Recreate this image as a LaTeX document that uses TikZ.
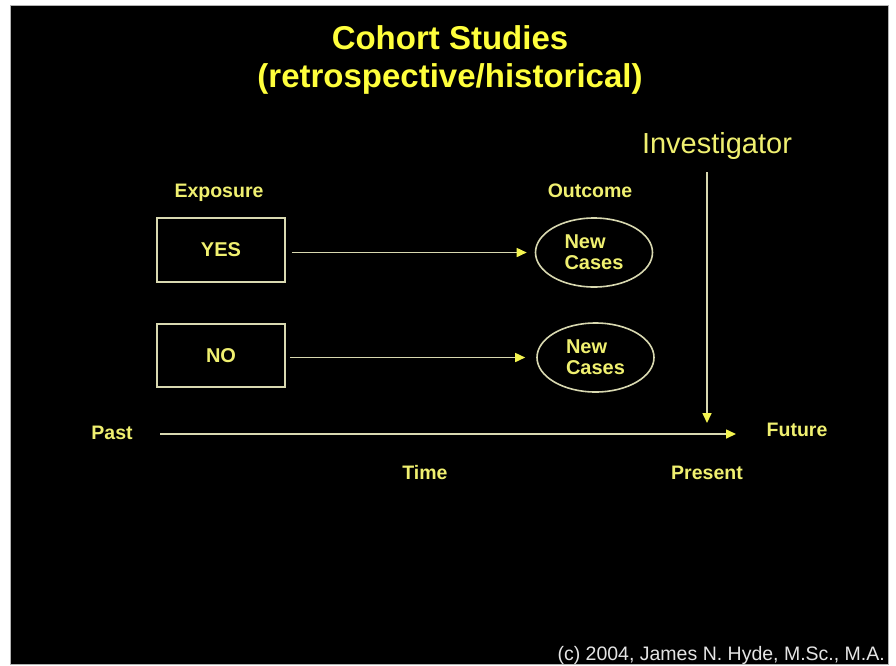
\documentclass[tikz,border=0pt]{standalone}
\usepackage{fontspec}
\setmainfont{Liberation Sans}
\usetikzlibrary{arrows.meta,shapes.geometric}
\definecolor{slidebg}{HTML}{000000}
\definecolor{titleyellow}{HTML}{FFFF3C}
\definecolor{labelyellow}{HTML}{F0F070}
\definecolor{strokecol}{HTML}{D8D8B0}
\definecolor{tipyellow}{HTML}{F4F450}
\definecolor{creditgray}{HTML}{E4E4E4}
\tikzset{
  titletext/.style={text=titleyellow, font=\bfseries\fontsize{33}{38}\selectfont, anchor=base, inner sep=0pt},
  labeltext/.style={text=labelyellow, font=\bfseries\fontsize{19.5}{21}\selectfont, anchor=base, inner sep=0pt},
  groupbox/.style={draw=strokecol, line width=1.6pt, minimum width=128pt, minimum height=64pt, inner sep=0pt,
    text=labelyellow, font=\bfseries\fontsize{20}{21}\selectfont},
  casebubble/.style={ellipse, draw=strokecol, line width=1.6pt, minimum width=117pt, minimum height=69pt,
    inner sep=0pt, align=left, text=labelyellow, font=\bfseries\fontsize{20}{21}\selectfont},
  flow/.style={draw=strokecol, line width=1.6pt,
    -{Triangle[length=10pt,width=9pt,color=tipyellow]}},
}
\begin{document}
\begin{tikzpicture}[x=1pt,y=-1pt]
  \useasboundingbox (0,0) rectangle (896,665);
  % slide area
  \fill[white] (0,0) rectangle (896,665);
  \filldraw[fill=slidebg, draw=gray!60, line width=1pt] (10,5) rectangle (888,664);

  % heading
  \node[titletext] (title1) at (450,49) {Cohort Studies};
  \node[titletext] (title2) at (450,87) {(retrospective/historical)};

  % investigator
  \node[text=labelyellow, font=\fontsize{29}{32}\selectfont, anchor=base, inner sep=0pt] (inv) at (717,153) {Investigator};

  % column headings
  \node[labeltext] (exposure) at (219,197) {Exposure};
  \node[labeltext] (outcome) at (590,197) {Outcome};

  % exposure groups
  \node[groupbox] (yes) at (221,250) {YES};
  \node[groupbox, minimum height=63pt] (no) at (221,355.5) {NO};

  % outcome bubbles
  \node[casebubble] (case1) at (594,252.5) {New\\Cases};
  \node[casebubble] (case2) at (595.5,357.5) {New\\Cases};

  \draw[flow, shorten <=6pt, shorten >=8pt] (yes.east |- case1.west) -- (case1.west);
  \draw[flow, shorten <=4pt, shorten >=11pt] (no.east |- case2.west) -- (case2.west);

  % time axis
  \node[labeltext] (past) at (112,439) {Past};
  \node[labeltext] (future) at (797,436) {Future};
  \node[labeltext] (time) at (425,479) {Time};
  \node[labeltext] (present) at (707,479) {Present};
  \coordinate (tstart) at (160,434);
  \coordinate (tend) at (736,434);
  \draw[flow] (tstart) -- (tend);

  % investigator looks back from the present
  \coordinate (vtop) at (707,172);
  \coordinate (vend) at (707,423);
  \draw[flow] (vtop) -- (vend);

  % credit line
  \node[text=creditgray, font=\fontsize{19.5}{21}\selectfont, anchor=base east, inner sep=0pt] (credit) at (885,660) {(c) 2004, James N. Hyde, M.Sc., M.A.};
\end{tikzpicture}
\end{document}
